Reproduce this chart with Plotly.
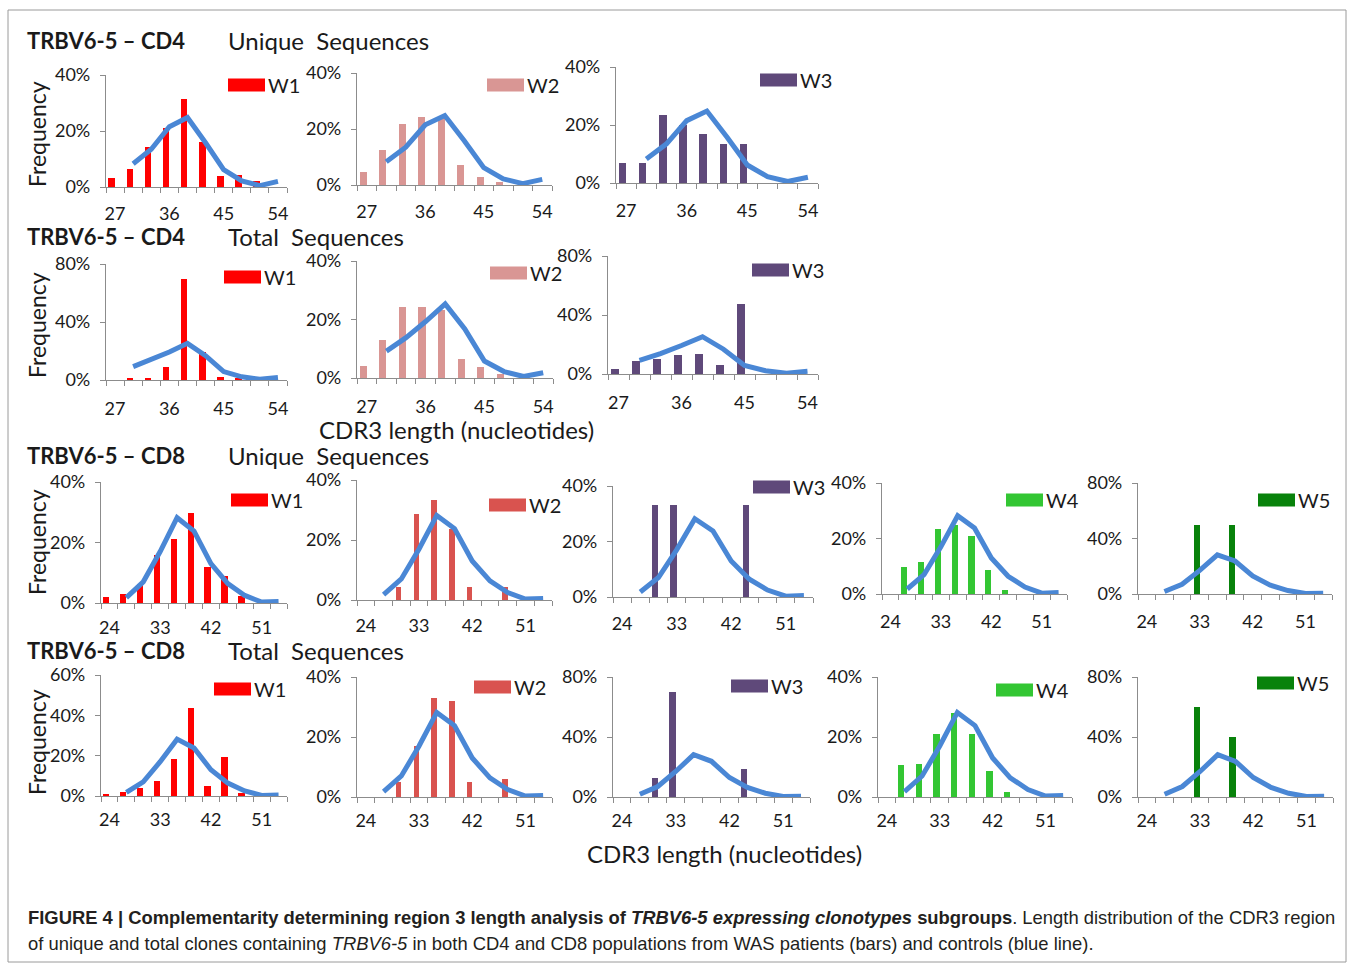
import plotly.graph_objects as go

# ---------------------------------------------------------------- data
# CDR3 lengths (nucleotides) on the category axes
CD4_LENGTHS = [27, 30, 33, 36, 39, 42, 45, 48, 51, 54]
CD8_LENGTHS = [24, 27, 30, 33, 36, 39, 42, 45, 48, 51, 54]
CD4_TICKS = [27, 36, 45, 54]
CD8_TICKS = [24, 33, 42, 51]

# controls (blue line), frequency in %
CD4_CONTROL_UNIQUE = [None, 8.3, 13.5, 21.5, 24.8, 15.8, 6.2, 2.2, 0.5, 2.0]
CD4_CONTROL_TOTAL = [None, 9.2, 13.8, 19.3, 25.3, 16.8, 5.8, 2.2, 0.5, 1.8]
CD8_CONTROL = [None, 1.8, 7.0, 17.0, 28.2, 23.8, 13.0, 6.4, 2.5, 0.3, 0.5]

# WAS patients (bars), frequency in %
CD4_UNIQUE_W1 = [3.2, 6.4, 14.2, 20.9, 31.5, 16.1, 3.8, 4.4, 2.0, 0]
CD4_UNIQUE_W2 = [4.5, 12.5, 21.7, 24.3, 23.8, 7.1, 3.0, 1.0, 0, 0]
CD4_UNIQUE_W3 = [7.0, 7.0, 23.4, 20.0, 17.0, 13.4, 13.4, 0, 0, 0]
CD4_TOTAL_W1 = [0, 1.6, 0.7, 8.7, 70.0, 19.5, 2.0, 0.7, 0, 0]
CD4_TOTAL_W2 = [4.1, 13.1, 24.3, 24.3, 23.2, 6.4, 3.8, 1.3, 0, 0]
CD4_TOTAL_W3 = [3.6, 9.0, 10.3, 12.8, 13.5, 5.8, 47.2, 0, 0, 0]

CD8_UNIQUE_W1 = [2.0, 3.0, 6.2, 16.0, 21.2, 29.7, 11.9, 8.8, 2.2, 0, 0]
CD8_UNIQUE_W2 = [0, 0, 4.4, 28.6, 33.3, 23.6, 4.4, 0, 4.4, 0, 0]
CD8_UNIQUE_W3 = [0, 0, 33.3, 33.3, 0, 0, 0, 33.3, 0, 0, 0]
CD8_UNIQUE_W4 = [0, 9.9, 11.4, 23.5, 24.9, 21.0, 8.7, 1.3, 0, 0, 0]
CD8_UNIQUE_W5 = [0, 0, 0, 50.0, 0, 50.0, 0, 0, 0, 0, 0]
CD8_TOTAL_W1 = [1.2, 2.0, 4.1, 7.5, 18.2, 43.4, 5.0, 19.4, 1.5, 0, 0]
CD8_TOTAL_W2 = [0, 0, 5.0, 17.0, 33.0, 32.0, 5.0, 0, 6.0, 0, 0]
CD8_TOTAL_W3 = [0, 0, 13.0, 70.0, 0, 0, 0, 19.0, 0, 0, 0]
CD8_TOTAL_W4 = [0, 10.7, 11.0, 21.0, 28.0, 21.0, 8.7, 1.7, 0, 0, 0]
CD8_TOTAL_W5 = [0, 0, 0, 60.0, 0, 40.0, 0, 0, 0, 0, 0]

# ---------------------------------------------------------------- styling
W, H = 1354, 965
FONT = "Lato, 'Open Sans', sans-serif"
AXIS_GREY = "#8c8c8c"
TEXT = "#1a1a1a"
BLUE = "#4a87d5"
COLORS = {
    "W1": "#ff0000",
    "W2": "#d99694",
    "W2r": "#d9534f",
    "W3": "#5f497a",
    "W4": "#33c633",
    "W5": "#08820b",
}

# one entry per panel: bars, colour key, control, lengths, ticks, y max,
# plot box (left, top, right, bottom in px), legend swatch (left, centre y),
# bar width, gap between axis and tick labels
panels = [
    (CD4_UNIQUE_W1, "W1", CD4_CONTROL_UNIQUE, CD4_LENGTHS, CD4_TICKS, 40, (106, 75, 287, 187), (228, 85), 1.1, 10),
    (CD4_UNIQUE_W2, "W2", CD4_CONTROL_UNIQUE, CD4_LENGTHS, CD4_TICKS, 40, (357, 73, 552, 185), (487, 85), 1.1, 10),
    (CD4_UNIQUE_W3, "W3", CD4_CONTROL_UNIQUE, CD4_LENGTHS, CD4_TICKS, 40, (616, 67, 818, 183), (760, 80), 1.1, 11),
    (CD4_TOTAL_W1, "W1", CD4_CONTROL_TOTAL, CD4_LENGTHS, CD4_TICKS, 80, (106, 264, 287, 380), (224, 277), 1.1, 12),
    (CD4_TOTAL_W2, "W2", CD4_CONTROL_TOTAL, CD4_LENGTHS, CD4_TICKS, 40, (357, 261, 553, 378), (490, 273), 1.1, 12),
    (CD4_TOTAL_W3, "W3", CD4_CONTROL_TOTAL, CD4_LENGTHS, CD4_TICKS, 80, (608, 256, 818, 374), (752, 270), 1.1, 12),
    (CD8_UNIQUE_W1, "W1", CD8_CONTROL, CD8_LENGTHS, CD8_TICKS, 40, (101, 482, 287, 603), (231, 500), 1.15, 8),
    (CD8_UNIQUE_W2, "W2r", CD8_CONTROL, CD8_LENGTHS, CD8_TICKS, 40, (357, 480, 552, 600), (489, 505), 0.9, 9),
    (CD8_UNIQUE_W3, "W3", CD8_CONTROL, CD8_LENGTHS, CD8_TICKS, 40, (613, 486, 813, 597), (753, 487), 1.05, 10),
    (CD8_UNIQUE_W4, "W4", CD8_CONTROL, CD8_LENGTHS, CD8_TICKS, 40, (882, 483, 1067, 594), (1006, 500), 1.1, 11),
    (CD8_UNIQUE_W5, "W5", CD8_CONTROL, CD8_LENGTHS, CD8_TICKS, 80, (1138, 483, 1332, 594), (1258, 500), 1.05, 11),
    (CD8_TOTAL_W1, "W1", CD8_CONTROL, CD8_LENGTHS, CD8_TICKS, 60, (101, 675, 287, 796), (214, 689), 1.15, 7),
    (CD8_TOTAL_W2, "W2r", CD8_CONTROL, CD8_LENGTHS, CD8_TICKS, 40, (357, 677, 552, 797), (474, 687), 0.9, 7),
    (CD8_TOTAL_W3, "W3", CD8_CONTROL, CD8_LENGTHS, CD8_TICKS, 80, (613, 677, 810, 797), (731, 686), 1.05, 7),
    (CD8_TOTAL_W4, "W4", CD8_CONTROL, CD8_LENGTHS, CD8_TICKS, 40, (878, 677, 1072, 797), (996, 690), 1.1, 7),
    (CD8_TOTAL_W5, "W5", CD8_CONTROL, CD8_LENGTHS, CD8_TICKS, 80, (1138, 677, 1333, 797), (1257, 683), 1.05, 7),
]


def fx(px):
    return px / W


def fy(py):
    return 1 - py / H


fig = go.Figure()
layout = {}
shapes = []
annotations = []

for i, (bars, ckey, control, lengths, ticks, ymax, box, legend, bw, gap) in enumerate(panels, start=1):
    sfx = "" if i == 1 else str(i)
    left, top, right, bottom = box
    color = COLORS[ckey]
    name = ckey[:2]

    fig.add_trace(go.Bar(
        x=lengths, y=bars, width=bw, offset=-bw,
        marker=dict(color=color, line=dict(width=0)),
        xaxis="x" + sfx, yaxis="y" + sfx, showlegend=False, name=name,
    ))
    fig.add_trace(go.Scatter(
        x=lengths, y=control, mode="lines",
        line=dict(color=BLUE, width=5),
        xaxis="x" + sfx, yaxis="y" + sfx, showlegend=False, cliponaxis=False,
        name="control",
    ))

    ystep = 20 if ymax <= 60 else 40
    yticks = list(range(0, ymax + 1, ystep))
    layout["xaxis" + sfx] = dict(
        domain=[fx(left), fx(right)], anchor="y" + sfx,
        range=[lengths[0] - 1.5, lengths[-1] + 1.5],
        tickmode="array", tickvals=ticks, ticktext=[str(t) for t in ticks],
        ticks="outside", ticklen=gap, tickcolor="rgba(0,0,0,0)",
        minor=dict(tickmode="linear", tick0=lengths[0] - 1.5, dtick=3,
                   ticks="outside", ticklen=5, tickcolor=AXIS_GREY, tickwidth=1),
        showline=True, linecolor=AXIS_GREY, linewidth=1.3,
        showgrid=False, zeroline=False, fixedrange=True, automargin=False,
        tickfont=dict(family=FONT, size=18, color=TEXT),
    )
    layout["yaxis" + sfx] = dict(
        domain=[fy(bottom), fy(top)], anchor="x" + sfx,
        range=[0, ymax], tickmode="array",
        tickvals=yticks, ticktext=["%d%%" % v for v in yticks],
        ticks="outside", ticklen=5, tickcolor=AXIS_GREY, tickwidth=1,
        ticklabelstandoff=6,
        showline=True, linecolor=AXIS_GREY, linewidth=1.3,
        showgrid=False, zeroline=False, fixedrange=True, automargin=False,
        tickfont=dict(family=FONT, size=18, color=TEXT),
    )

    # legend swatch and patient label
    lx, ly = legend
    shapes.append(dict(type="rect", xref="paper", yref="paper",
                       x0=fx(lx), x1=fx(lx + 37), y0=fy(ly + 6.5), y1=fy(ly - 6.5),
                       fillcolor=color, line=dict(width=0)))
    annotations.append(dict(text=name, x=fx(lx + 38), y=fy(ly), xref="paper", yref="paper",
                            xanchor="left", yanchor="middle", showarrow=False,
                            font=dict(family=FONT, size=20, color=TEXT)))

# row headers
ROW_HEADERS = [
    ("TRBV6-5 – CD4", "Unique\u00a0 Sequences", 40),
    ("TRBV6-5 – CD4", "Total\u00a0 Sequences", 237),
    ("TRBV6-5 – CD8", "Unique\u00a0 Sequences", 455),
    ("TRBV6-5 – CD8", "Total\u00a0 Sequences", 650),
]
for gene, kind, ypx in ROW_HEADERS:
    annotations.append(dict(text="<b>%s</b>" % gene, x=fx(25), y=fy(ypx), xref="paper", yref="paper",
                            xanchor="left", yanchor="middle", showarrow=False,
                            font=dict(family=FONT, size=22, color=TEXT)))
    annotations.append(dict(text=kind, x=fx(226), y=fy(ypx), xref="paper", yref="paper",
                            xanchor="left", yanchor="middle", showarrow=False,
                            font=dict(family=FONT, size=24, color=TEXT)))

# y titles, one per row
for ypx in (134, 325, 542, 742):
    annotations.append(dict(text="Frequency", x=fx(37), y=fy(ypx), xref="paper", yref="paper",
                            xanchor="center", yanchor="middle", textangle=-90, showarrow=False,
                            font=dict(family=FONT, size=23, color=TEXT)))

# x titles
for xpx, ypx in ((456, 429), (724, 853)):
    annotations.append(dict(text="CDR3 length (nucleotides)", x=fx(xpx), y=fy(ypx),
                            xref="paper", yref="paper", xanchor="center", yanchor="middle",
                            showarrow=False, font=dict(family=FONT, size=24, color=TEXT)))

# caption
CAPTION_FONT = "'Liberation Sans', Arial, sans-serif"
caption = [
    ("<b>FIGURE 4 | Complementarity determining region 3 length analysis of "
     "<i>TRBV6-5 expressing clonotypes</i> subgroups</b>. "
     "Length distribution of the CDR3 region", 917),
    ("of unique and total clones containing <i>TRBV6-5</i> in both CD4 and CD8 populations "
     "from WAS patients (bars) and controls (blue line).", 943),
]
for text, ypx in caption:
    annotations.append(dict(text=text, x=fx(26), y=fy(ypx), xref="paper", yref="paper",
                            xanchor="left", yanchor="middle", showarrow=False,
                            font=dict(family=CAPTION_FONT, size=18.4, color="#231f20")))

# frame round the whole figure
shapes.append(dict(type="rect", xref="paper", yref="paper",
                   x0=fx(8), x1=fx(1346), y0=fy(962), y1=fy(10),
                   fillcolor="rgba(0,0,0,0)", line=dict(color="#9a9a9a", width=1)))

fig.update_layout(
    width=W, height=H, autosize=False,
    margin=dict(l=0, r=0, t=0, b=0, pad=0, autoexpand=False),
    paper_bgcolor="white", plot_bgcolor="white",
    showlegend=False, bargap=0,
    shapes=shapes, annotations=annotations,
    **layout,
)

fig.write_html("out.html", config={"displayModeBar": False, "responsive": False})
